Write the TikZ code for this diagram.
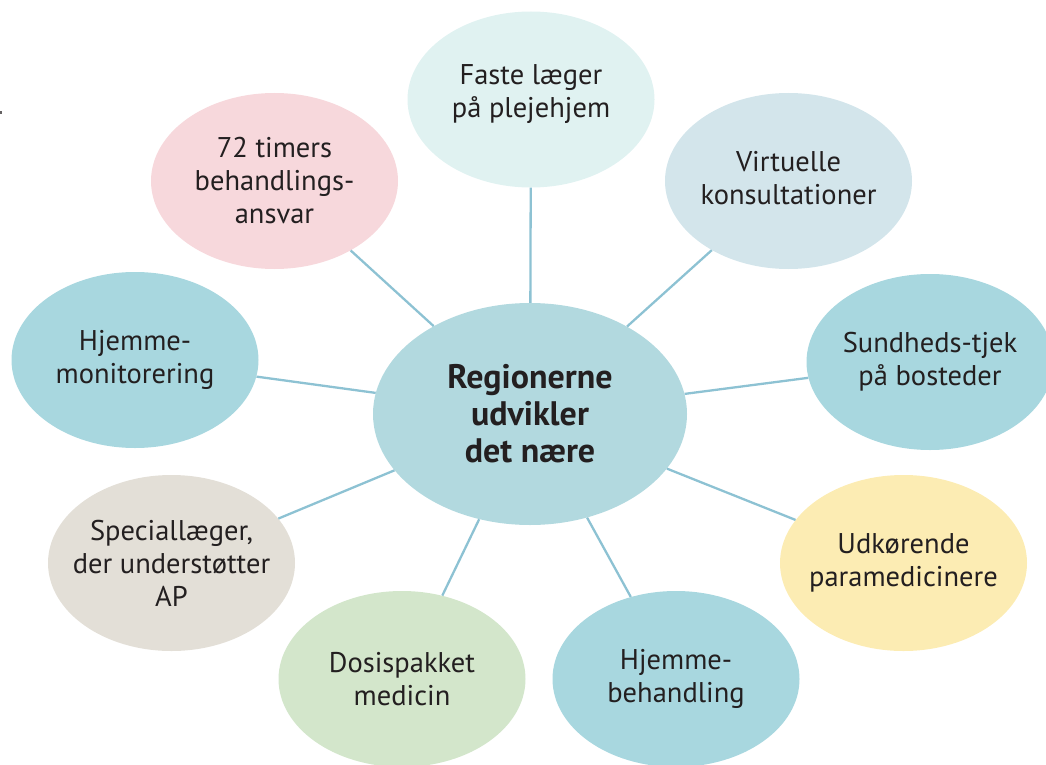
\documentclass[tikz,border=0pt]{standalone}
\usepackage{fontspec}
\setmainfont{PT Sans}
\usetikzlibrary{shapes.geometric}
\definecolor{txtc}{HTML}{231F20}
\definecolor{linec}{HTML}{8DC2D3}
\definecolor{cfaste}{HTML}{E0F2F1}
\definecolor{cvirt}{HTML}{D3E5EB}
\definecolor{cteal}{HTML}{A8D7DF}
\definecolor{ccenter}{HTML}{B2D9DF}
\definecolor{cpink}{HTML}{F7D8DC}
\definecolor{cgrey}{HTML}{E3DFD7}
\definecolor{cgreen}{HTML}{D3E6CB}
\definecolor{cyellow}{HTML}{FCECB3}
\tikzset{
  bubble/.style={ellipse, draw=none, inner sep=0pt, minimum width=247pt, minimum height=176pt},
  txt/.style={align=center, text=txtc, font=\fontsize{28.5}{33}\selectfont, inner sep=0pt},
  ctxt/.style={align=center, text=txtc, font=\fontsize{34}{37}\selectfont\bfseries, inner sep=0pt},
  conn/.style={draw=linec, line width=2.3pt}
}
\begin{document}
\begin{tikzpicture}[x=1pt,y=-1pt]
\useasboundingbox (0,0) rectangle (1046,765);
\fill[txtc!70] (0,111.5) rectangle (2,114);
% bubbles
\node[ellipse, inner sep=0pt, minimum width=314pt, minimum height=222pt, fill=ccenter] (c) at (530,414) {};
\node[bubble, fill=cfaste] (faste) at (531,99.5) {};
\node[bubble, fill=cvirt] (virt) at (788.5,181) {};
\node[bubble, fill=cteal] (sund) at (930,362) {};
\node[bubble, fill=cyellow] (udk) at (903.5,563) {};
\node[bubble, fill=cteal] (hbeh) at (676,679) {};
\node[bubble, fill=cgreen] (dosis) at (402,679) {};
\node[bubble, fill=cgrey] (spec) at (171.5,563) {};
\node[bubble, fill=cteal] (hmon) at (135,360) {};
\node[bubble, fill=cpink] (t72) at (274.5,181) {};
% connectors
\foreach \n in {faste,virt,sund,udk,hbeh,dosis,spec,hmon,t72}
  \draw[conn] (c) -- (\n);
% texts
\node[ctxt] (c-t) at (c) {Regionerne\\udvikler\\det nære};
\node[txt] (faste-t) at ([yshift=5pt]faste.center) {Faste læger\\på plejehjem};
\node[txt] (virt-t) at ([yshift=3pt]virt.center) {Virtuelle\\konsultationer};
\node[txt] (sund-t) at (sund) {Sundheds-tjek\\på bosteder};
\node[txt] (udk-t) at (udk) {Udkørende\\paramedicinere};
\node[txt] (hbeh-t) at (hbeh) {Hjemme-\\behandling};
\node[txt] (dosis-t) at (dosis) {Dosispakket\\medicin};
\node[txt] (spec-t) at (spec) {Speciallæger,\\der understøtter\\AP};
\node[txt] (hmon-t) at (hmon) {Hjemme-\\monitorering};
\node[txt] (t72-t) at (t72) {72 timers\\behandlings-\\ansvar};
\end{tikzpicture}
\end{document}
